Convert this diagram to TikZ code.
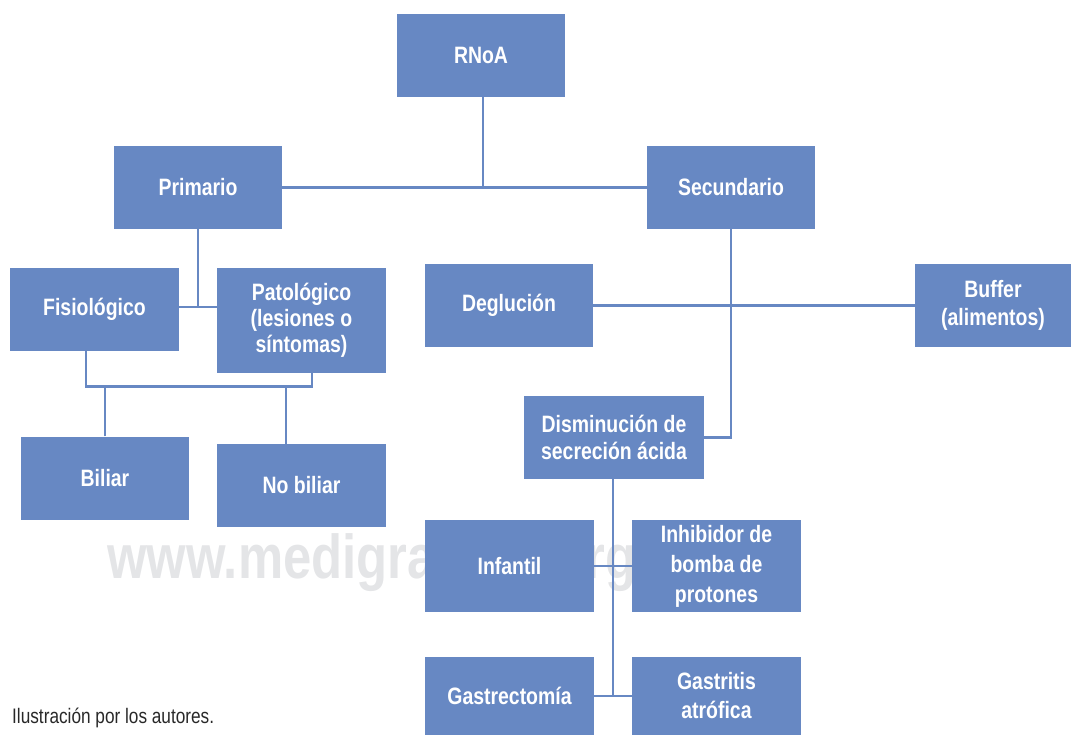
\documentclass[tikz,border=0pt]{standalone}
\usepackage{fontspec}
\setmainfont{Liberation Sans}[FakeStretch=0.82]
\usepackage{tikz}
\definecolor{azulCaja}{RGB}{103,136,195}
\definecolor{grisMarca}{RGB}{228,229,231}
\definecolor{grisTexto}{RGB}{40,40,40}

\begin{document}
\begin{tikzpicture}[x=1pt, y=-1pt,
        caja/.style={fill=azulCaja, text=white, inner sep=0pt, align=center,
            minimum width=168pt, minimum height=83pt,
            font=\fontsize{23.7}{27.5}\selectfont\bfseries},
        union/.style={draw=azulCaja, line width=2.6pt}]
        \useasboundingbox (0,0) rectangle (1071,736);
        \node[anchor=base west, inner sep=0pt, text=grisMarca,
            font=\fontsize{62}{62}\selectfont\bfseries] (marca) at (107,578) {www.medigraphic.org};

        \node[caja] (rnoa) at (481,55.5) {RNoA};
        \node[caja] (primario) at (198,187.5) {Primario};
        \node[caja] (secundario) at (731,187.5) {Secundario};
        \node[caja, minimum width=169pt] (fisiologico) at (94.5,309.5) {Fisiológico};
        \node[caja, minimum width=169pt, minimum height=105pt,
            font=\fontsize{23.7}{26}\selectfont\bfseries] (patologico) at (301.5,320.5)
            {Patológico\\(lesiones o\\síntomas)};
        \node[caja] (biliar) at (105,478) {Biliar};
        \node[caja, minimum width=169pt] (noBiliar) at (301.5,485.5) {No biliar};
        \node[caja] (deglucion) at (509,305.5) {Deglución};
        \node[caja, minimum width=156pt] (buffer) at (993,305.5) {Buffer\\(alimentos)};
        \node[caja, minimum width=180pt] (disminucion) at (614,437.5)
            {Disminución de\\secreción ácida};
        \node[caja, minimum width=169pt, minimum height=92pt] (infantil) at (509.5,566) {Infantil};
        \node[caja, minimum width=169pt, minimum height=92pt,
            font=\fontsize{23.7}{30}\selectfont\bfseries] (inhibidor) at (716.5,566)
            {Inhibidor de\\bomba de\\protones};
        \node[caja, minimum width=169pt, minimum height=78pt] (gastrectomia) at (509.5,696) {Gastrectomía};
        \node[caja, minimum width=169pt, minimum height=78pt,
            font=\fontsize{23.7}{29}\selectfont\bfseries] (gastritis) at (716.5,696)
            {Gastritis\\atrófica};

        % rama superior
        \draw[union] (primario) -- (secundario);
        \draw[union] ([xshift=2pt]rnoa.south) -- ([xshift=2pt]rnoa.south |- primario.east);

        % rama primaria
        \draw[union] (primario.south) -- (primario.south |- 0,307);
        \draw[union] (fisiologico.east |- 0,307) -- (patologico.west |- 0,307);
        \draw[union] ([xshift=-8.5pt]fisiologico.south) -- ++(0,35.5)
            -| ([xshift=10.5pt]patologico.south);
        \draw[union] (biliar.north) -- (biliar.north |- 0,387);
        \draw[union] ([xshift=-15.5pt]noBiliar.north) -- ++(0,-57);

        % rama secundaria
        \draw[union] (deglucion) -- (buffer);
        \draw[union] (secundario.south) |- (disminucion.east);
        \draw[union] ([xshift=-1pt]disminucion.south) -- ([xshift=-1pt]disminucion.south |- gastrectomia.east);
        \draw[union] (infantil.east) -- (inhibidor.west);
        \draw[union] (gastrectomia.east) -- (gastritis.west);

        \node[anchor=base west, inner sep=0pt, text=grisTexto,
            font=\fontsize{21}{21}\selectfont] (credito) at (12,723) {Ilustración por los autores.};
\end{tikzpicture}
\end{document}
